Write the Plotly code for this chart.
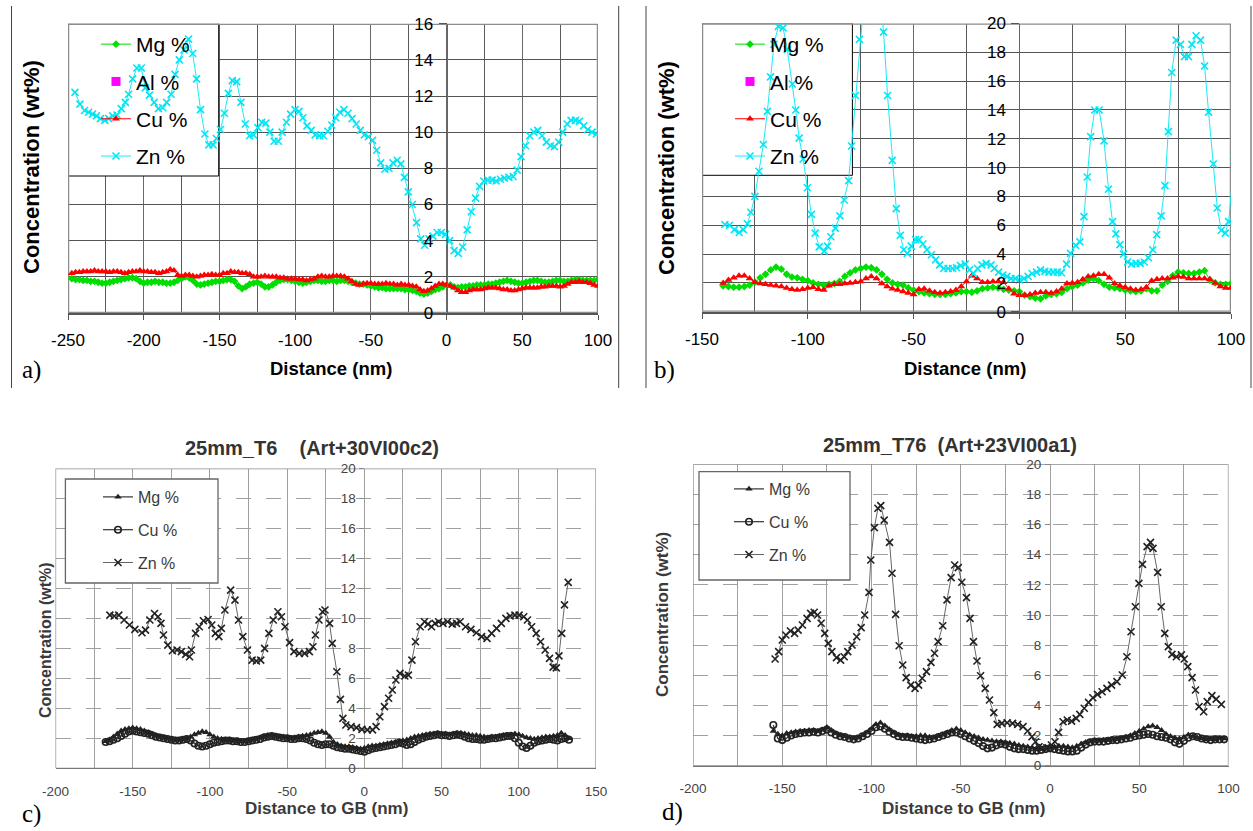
import numpy as np
import plotly.graph_objects as go

W, H = 1253, 831

# ---------------- Panel a data ----------------
a_zn_x = [-245.4, -242.1, -239.1, -236.4, -233.8, -231.2, -228.6, -225.7, -223.1, -220.5,
          -217.6, -214.8, -212.1, -210.0, -207.3, -204.5, -201.6, -199.0, -196.2, -193.1,
          -190.3, -187.4, -184.8, -181.9, -179.3, -176.5, -173.4, -170.4, -167.7, -165.1,
          -162.5, -159.6, -157.0, -154.2, -152.0, -149.3, -146.7, -144.1, -141.5, -138.6,
          -135.8, -132.9, -130.1, -127.5, -124.6, -122.0, -119.4, -116.7, -113.9, -111.1,
          -108.6, -105.8, -103.0, -100.1, -97.5, -94.9, -92.2, -89.4, -86.8, -83.9,
          -81.3, -78.4, -75.8, -73.2, -70.5, -67.8, -65.1, -62.4, -59.7, -57.0,
          -54.3, -51.6, -48.9, -46.2, -43.5, -40.8, -38.0, -35.4, -32.6, -30.2,
          -27.8, -25.3, -22.6, -19.8, -17.1, -14.5, -11.6, -9.0, -6.2, -3.5,
          -0.7, 2.0, 5.0, 7.7, 10.6, 13.6, 16.3, 19.1, 21.8, 24.6,
          27.3, 30.1, 32.7, 35.6, 38.2, 41.1, 44.0, 46.6, 49.2, 52.1,
          54.9, 57.6, 60.2, 63.1, 65.9, 68.6, 71.2, 74.1, 76.7, 79.6,
          82.2, 85.1, 87.7, 90.5, 93.2, 96.0, 98.9, 101.5]
a_zn = [12.2, 11.55, 11.2, 11.1, 11.0, 10.9, 10.75, 10.65, 10.75, 10.9,
        10.95, 11.3, 11.65, 12.1, 12.95, 13.55, 13.55, 12.45, 12.05, 11.65,
        11.3, 11.35, 11.65, 12.1, 13.2, 14.0, 14.55, 15.15, 14.35, 12.95,
        11.25, 9.9, 9.3, 9.3, 9.65, 10.15, 11.05, 12.15, 12.85, 12.8,
        11.65, 10.45, 9.8, 9.85, 10.25, 10.55, 10.5, 10.0, 9.5, 9.5,
        10.0, 10.55, 11.0, 11.25, 11.15, 10.8, 10.35, 10.1, 9.85, 9.8,
        9.8, 10.05, 10.4, 10.8, 11.1, 11.25, 11.05, 10.75, 10.45, 10.1,
        9.85, 9.75, 9.55, 9.0, 8.3, 7.95, 8.0, 8.3, 8.45, 8.25,
        7.5, 6.7, 6.0, 5.0, 4.1, 3.75, 4.1, 4.25, 4.45, 4.45,
        4.35, 4.0, 3.45, 3.3, 3.65, 4.6, 5.6, 6.35, 7.0, 7.3,
        7.35, 7.35, 7.3, 7.4, 7.45, 7.5, 7.55, 7.9, 8.65, 9.25,
        9.8, 10.0, 10.1, 9.8, 9.45, 9.25, 9.2, 9.45, 10.0, 10.45,
        10.65, 10.65, 10.6, 10.35, 10.15, 10.0, 9.9, 10.0]
a_mc_start, a_mc_end = -247.5, 100.0
a_mg = [1.9, 1.85, 1.85, 1.8, 1.8, 1.75, 1.75, 1.7, 1.65, 1.65,
        1.7, 1.75, 1.8, 1.85, 1.9, 1.95, 1.95, 1.9, 1.75, 1.65,
        1.7, 1.7, 1.75, 1.7, 1.7, 1.65, 1.65, 1.7, 1.8, 1.9,
        2.0, 1.95, 1.8, 1.6, 1.55, 1.6, 1.65, 1.7, 1.75, 1.75,
        1.8, 1.85, 1.85, 1.75, 1.5, 1.35, 1.45, 1.6, 1.65, 1.7,
        1.6, 1.45, 1.45, 1.55, 1.7, 1.8, 1.85, 1.85, 1.8, 1.75,
        1.7, 1.65, 1.7, 1.75, 1.8, 1.8, 1.75, 1.75, 1.8, 1.8,
        1.75, 1.8, 1.8, 1.75, 1.7, 1.65, 1.6, 1.6, 1.55, 1.5,
        1.45, 1.4, 1.4, 1.35, 1.35, 1.35, 1.35, 1.35, 1.3, 1.3,
        1.25, 1.2, 1.1, 1.05, 1.1, 1.2, 1.3, 1.35, 1.45, 1.55,
        1.55, 1.45, 1.4, 1.45, 1.45, 1.5, 1.5, 1.55, 1.55, 1.55,
        1.6, 1.6, 1.65, 1.7, 1.75, 1.8, 1.75, 1.7, 1.65, 1.65,
        1.7, 1.75, 1.8, 1.8, 1.75, 1.7, 1.7, 1.75, 1.8, 1.8,
        1.75, 1.75, 1.8, 1.85, 1.85, 1.8, 1.8, 1.8, 1.8, 1.85]
a_cu = [2.2, 2.25, 2.25, 2.3, 2.3, 2.3, 2.35, 2.3, 2.3, 2.3,
        2.25, 2.3, 2.3, 2.25, 2.2, 2.25, 2.3, 2.3, 2.35, 2.3,
        2.3, 2.25, 2.25, 2.2, 2.25, 2.3, 2.4, 2.35, 2.1, 2.05,
        2.1, 2.1, 2.05, 2.0, 2.05, 2.1, 2.1, 2.15, 2.1, 2.1,
        2.2, 2.2, 2.3, 2.25, 2.25, 2.2, 2.2, 2.15, 2.0, 2.0,
        2.0, 2.05, 2.0, 2.0, 2.0, 1.95, 1.95, 1.9, 1.9, 1.9,
        1.85, 1.85, 1.8, 1.85, 1.9, 2.0, 2.05, 2.0, 2.0, 2.05,
        2.05, 2.05, 2.0, 1.9, 1.75, 1.6, 1.55, 1.6, 1.65, 1.65,
        1.6, 1.6, 1.6, 1.65, 1.6, 1.6, 1.55, 1.6, 1.55, 1.55,
        1.5, 1.45, 1.3, 1.2, 1.25, 1.35, 1.5, 1.6, 1.6, 1.55,
        1.5, 1.4, 1.25, 1.15, 1.15, 1.25, 1.3, 1.3, 1.3, 1.35,
        1.4, 1.4, 1.4, 1.35, 1.3, 1.3, 1.25, 1.25, 1.3, 1.35,
        1.4, 1.4, 1.4, 1.4, 1.45, 1.45, 1.5, 1.5, 1.5, 1.45,
        1.5, 1.6, 1.7, 1.7, 1.75, 1.7, 1.7, 1.65, 1.55, 1.5]

# ---------------- Panel b data ----------------
b_zn_x = [-139.2, -137.0, -134.7, -132.4, -130.5, -128.6, -126.9, -125.0, -123.1, -121.0,
          -119.1, -117.6, -116.0, -113.9, -111.7, -109.7, -107.3, -105.7, -104.1, -102.2,
          -100.2, -98.3, -96.5, -94.6, -92.2, -90.7, -89.1, -87.0, -84.8, -82.8,
          -80.7, -79.3, -77.5, -75.6, -73.7, -71.8, -69.9, -68.0, -66.1, -64.2,
          -62.3, -60.1, -58.2, -56.3, -54.7, -53.0, -51.1, -49.1, -47.5, -45.6,
          -43.7, -41.6, -39.6, -37.7, -35.8, -33.7, -31.6, -29.7, -27.8, -25.6,
          -23.6, -21.7, -19.8, -17.7, -15.7, -13.4, -11.9, -9.8, -7.8, -5.9,
          -4.0, -1.9, 0.0, 2.1, 4.1, 6.0, 8.1, 10.0, 12.0, 13.9,
          16.0, 17.9, 19.9, 22.3, 24.2, 26.6, 28.6, 30.5, 32.1, 33.7,
          35.6, 37.7, 40.0, 42.1, 44.0, 45.6, 47.5, 49.2, 51.1, 53.0,
          55.1, 57.1, 59.0, 60.9, 63.0, 64.9, 67.0, 68.8, 70.4, 72.0,
          74.1, 76.1, 78.0, 79.9, 81.5, 83.5, 85.6, 87.5, 89.4, 91.6,
          93.5, 95.4, 97.3, 98.9, 101.5]
b_zn = [6.05, 6.0, 5.7, 5.5, 5.7, 6.1, 6.9, 8.0, 9.75, 11.6,
        13.9, 16.3, 18.55, 19.8, 19.7, 18.2, 15.8, 14.0, 12.05, 10.6,
        8.6, 6.75, 5.45, 4.5, 4.2, 4.55, 5.2, 5.8, 6.65, 7.75,
        9.1, 11.5, 15.0, 18.9, 22.5, 24.5, 25.5, 24.5, 22.5, 19.4,
        15.0, 10.5, 7.15, 5.3, 4.3, 4.05, 4.55, 5.0, 5.0, 4.7,
        4.3, 3.95, 3.6, 3.25, 3.0, 3.0, 3.0, 3.05, 3.2, 3.3,
        2.9, 2.65, 3.0, 3.25, 3.35, 3.25, 3.0, 2.75, 2.55, 2.45,
        2.3, 2.3, 2.2, 2.3, 2.45, 2.65, 2.75, 2.9, 2.8, 2.75,
        2.75, 2.75, 2.7, 3.3, 4.05, 4.6, 4.85, 6.6, 9.35, 12.15,
        14.0, 14.0, 11.85, 8.5, 6.25, 5.4, 4.65, 4.0, 3.45, 3.3,
        3.35, 3.35, 3.45, 3.75, 4.3, 5.35, 6.65, 8.75, 12.5, 16.6,
        18.85, 18.55, 17.7, 17.7, 18.55, 19.15, 18.85, 17.05, 13.85, 10.25,
        7.2, 5.65, 5.45, 6.25, 10.6]
b_mc_start, b_mc_end = -140.0, 100.0
b_mg = [1.8, 1.75, 1.7, 1.7, 1.75, 1.85, 2.05, 2.35, 2.6, 2.9,
        3.1, 2.95, 2.6, 2.4, 2.35, 2.25, 2.15, 2.0, 1.9, 1.85,
        1.9, 1.95, 2.1, 2.45, 2.7, 2.9, 3.0, 3.1, 3.05, 2.9,
        2.6, 2.25, 2.0, 1.9, 1.85, 1.65, 1.5, 1.4, 1.3, 1.25,
        1.2, 1.2, 1.2, 1.25, 1.3, 1.4, 1.4, 1.35, 1.45, 1.6,
        1.65, 1.7, 1.65, 1.55, 1.5, 1.45, 1.4, 1.15, 1.05, 0.95,
        0.9, 1.1, 1.2, 1.25, 1.35, 1.6, 1.75, 1.85, 2.0, 2.2,
        2.3, 2.15, 1.9, 1.7, 1.65, 1.6, 1.5, 1.45, 1.4, 1.45,
        1.6, 1.45, 1.45, 1.85, 2.1, 2.5, 2.75, 2.7, 2.65, 2.65,
        2.75, 2.85, 2.2, 2.0, 1.9, 1.9, 1.95]
b_cu = [2.0, 2.2, 2.35, 2.5, 2.5, 2.3, 2.05, 1.95, 1.9, 1.85,
        1.8, 1.75, 1.65, 1.55, 1.5, 1.55, 1.65, 1.7, 1.55, 1.5,
        1.8, 1.9, 1.9, 1.95, 2.0, 2.05, 2.1, 2.3, 2.45, 2.3,
        1.95, 1.75, 1.6, 1.5, 1.4, 1.3, 1.2, 1.55, 1.6, 1.45,
        1.35, 1.3, 1.35, 1.4, 1.5, 1.75, 2.1, 2.5, 2.3, 2.05,
        2.05, 2.1, 2.1, 2.05, 1.6, 1.25, 1.15, 1.15, 1.2, 1.3,
        1.35, 1.35, 1.3, 1.4, 1.6, 1.95, 2.0, 2.05, 2.25, 2.45,
        2.5, 2.6, 2.6, 2.35, 1.95, 1.8, 1.7, 1.6, 1.5, 1.55,
        1.7, 2.15, 2.25, 2.3, 2.3, 2.35, 2.45, 2.4, 2.3, 2.3,
        2.3, 2.3, 2.25, 2.0, 1.75, 1.65, 1.65]

# ---------------- Panel c data ----------------
c_zn_x = [-164.8, -162.0, -159.0, -155.6, -152.1, -148.6, -144.0, -141.7, -138.9, -135.9,
          -133.6, -131.7, -130.1, -127.3, -124.3, -121.3, -118.5, -115.7, -113.2, -112.0,
          -109.3, -106.9, -104.2, -101.2, -98.8, -96.5, -94.2, -92.6, -90.3, -86.6,
          -83.8, -81.5, -78.7, -75.7, -72.7, -69.9, -67.1, -64.6, -61.8, -59.0,
          -56.0, -53.7, -51.4, -48.4, -45.6, -42.1, -38.7, -35.6, -33.3, -31.7,
          -29.4, -27.1, -25.5, -22.5, -20.8, -17.8, -15.5, -13.9, -12.0, -8.6,
          -5.1, -1.6, 1.9, 5.3, 7.6, 10.0, 13.0, 15.7, 18.1, 20.4,
          23.1, 26.2, 28.5, 30.8, 33.1, 36.1, 38.9, 41.2, 43.5, 45.8,
          48.1, 50.9, 53.9, 56.9, 59.7, 62.0, 65.5, 69.0, 72.5, 75.9,
          79.4, 82.4, 85.6, 88.7, 91.7, 94.4, 97.5, 100.2, 103.2, 105.6,
          108.3, 111.3, 114.1, 117.1, 119.9, 122.2, 124.3, 126.0, 127.8, 129.6,
          132.0]
c_zn = [10.22, 10.16, 10.22, 9.89, 9.56, 9.27, 9.04, 9.22, 9.89, 10.33,
        10.11, 9.67, 8.89, 8.22, 7.84, 7.89, 7.78, 7.6, 7.44, 7.89,
        9.0, 9.44, 9.84, 9.93, 9.56, 9.0, 8.78, 9.33, 10.56, 11.89,
        11.22, 9.89, 8.78, 7.89, 7.22, 7.16, 7.22, 8.0, 9.0, 9.89,
        10.44, 10.11, 9.44, 8.38, 7.78, 7.67, 7.67, 7.78, 8.11, 8.89,
        9.89, 10.44, 10.56, 9.67, 8.33, 6.44, 4.6, 3.33, 2.89, 2.78,
        2.71, 2.6, 2.56, 2.56, 2.78, 3.44, 4.11, 4.67, 5.22, 5.89,
        6.33, 6.16, 6.22, 7.22, 8.44, 9.44, 9.78, 9.62, 9.44, 9.67,
        9.78, 9.67, 9.78, 9.62, 9.67, 9.78, 9.44, 9.27, 9.04, 8.78,
        8.67, 9.0, 9.33, 9.67, 10.0, 10.16, 10.22, 10.22, 10.11, 9.89,
        9.44, 9.0, 8.44, 7.89, 7.33, 6.75, 6.7, 7.5, 9.0, 10.9,
        12.4]
c_mc_start, c_mc_end = -167.5, 132.5
c_mg = [1.8, 1.9, 2.1, 2.3, 2.5, 2.6, 2.65, 2.7, 2.65, 2.6,
        2.5, 2.4, 2.3, 2.2, 2.1, 2.05, 2.0, 1.95, 1.9, 1.9,
        1.95, 2.0, 2.1, 2.25, 2.35, 2.45, 2.4, 2.25, 2.1, 2.0,
        1.95, 1.9, 1.9, 1.85, 1.85, 1.8, 1.8, 1.85, 1.9, 1.95,
        2.05, 2.15, 2.2, 2.2, 2.15, 2.1, 2.1, 2.05, 2.0, 2.05,
        2.1, 2.15, 2.2, 2.25, 2.35, 2.4, 2.45, 2.35, 2.1, 1.75,
        1.6, 1.5, 1.45, 1.45, 1.4, 1.35, 1.3, 1.35, 1.45, 1.5,
        1.5, 1.55, 1.6, 1.65, 1.7, 1.75, 1.8, 1.85, 1.9, 2.0,
        2.1, 2.15, 2.2, 2.25, 2.3, 2.3, 2.35, 2.3, 2.3, 2.25,
        2.3, 2.35, 2.35, 2.3, 2.25, 2.2, 2.2, 2.15, 2.1, 2.05,
        2.1, 2.1, 2.15, 2.2, 2.2, 2.25, 2.3, 2.25, 2.15, 2.05,
        2.0, 1.95, 2.0, 2.05, 2.1, 2.1, 2.15, 2.2, 2.35, 2.2,
        2.0]
c_cu = [1.75, 1.8, 1.9, 2.0, 2.15, 2.3, 2.45, 2.5, 2.45, 2.4,
        2.35, 2.3, 2.2, 2.1, 2.05, 2.0, 1.95, 1.9, 1.85, 1.85,
        1.9, 1.95, 1.85, 1.65, 1.5, 1.45, 1.5, 1.6, 1.7, 1.75,
        1.8, 1.85, 1.85, 1.8, 1.8, 1.75, 1.75, 1.8, 1.85, 1.9,
        1.95, 2.05, 2.1, 2.15, 2.1, 2.05, 2.0, 2.0, 1.95, 1.95,
        2.0, 2.0, 1.95, 1.85, 1.7, 1.6, 1.55, 1.6, 1.6, 1.5,
        1.4, 1.35, 1.3, 1.3, 1.25, 1.2, 1.15, 1.1, 1.2, 1.3,
        1.35, 1.4, 1.45, 1.5, 1.55, 1.6, 1.7, 1.65, 1.55, 1.6,
        1.75, 1.9, 2.0, 2.1, 2.15, 2.2, 2.25, 2.2, 2.2, 2.15,
        2.2, 2.25, 2.2, 2.1, 2.0, 1.95, 1.95, 1.9, 1.9, 1.95,
        2.0, 2.0, 2.05, 2.1, 2.15, 2.15, 2.0, 1.7, 1.45, 1.35,
        1.5, 1.7, 1.8, 1.85, 1.9, 1.95, 1.9, 1.85, 1.95, 2.0,
        1.9]

# ---------------- Panel d data ----------------
d_zn_x = [-154.0, -152.0, -150.0, -148.0, -145.4, -143.1, -141.1, -138.7, -136.1, -134.1,
          -132.1, -130.2, -128.2, -126.2, -124.2, -122.2, -119.6, -117.3, -115.3, -113.3,
          -110.9, -108.3, -105.8, -103.8, -101.4, -100.4, -98.4, -96.4, -94.8, -92.9,
          -89.9, -88.5, -86.5, -84.5, -82.5, -80.6, -78.0, -75.6, -73.6, -71.6,
          -69.2, -66.7, -64.7, -62.7, -60.1, -57.7, -55.4, -53.4, -51.4, -49.4,
          -46.8, -44.8, -42.9, -40.9, -38.9, -36.3, -33.9, -31.5, -29.6, -27.0,
          -24.0, -21.0, -18.1, -15.1, -12.5, -10.1, -8.1, -6.2, -4.2, -1.8,
          0.8, 2.8, 4.8, 7.3, 9.7, 12.1, 14.7, 16.7, 19.2, 21.6,
          24.0, 26.6, 29.2, 31.9, 34.5, 37.5, 40.5, 43.1, 45.4, 47.8,
          49.8, 51.8, 54.4, 56.3, 57.7, 60.3, 62.3, 64.3, 66.3, 68.3,
          70.8, 73.6, 75.2, 77.2, 79.6, 81.5, 83.5, 86.1, 88.1, 90.7,
          93.1, 96.0]
d_zn = [7.08, 7.57, 8.34, 8.67, 8.94, 8.78, 9.0, 9.34, 9.78, 10.11,
        10.18, 10.0, 9.45, 8.78, 8.12, 7.57, 7.17, 7.01, 7.23, 7.57,
        8.01, 8.56, 9.16, 10.0, 11.5, 13.65, 15.8, 17.08, 17.26, 16.3,
        14.82, 12.77, 10.04, 7.96, 6.68, 5.84, 5.35, 5.13, 5.35, 5.8,
        6.24, 6.86, 7.46, 8.23, 9.29, 11.0, 12.48, 13.32, 13.14, 12.17,
        11.15, 9.78, 8.23, 6.95, 5.97, 5.13, 4.36, 3.52, 2.74, 2.81,
        2.85, 2.81, 2.74, 2.59, 2.3, 1.92, 1.59, 1.26, 1.19, 1.19,
        1.37, 1.59, 2.21, 2.92, 3.03, 2.96, 3.14, 3.41, 3.81, 4.2,
        4.51, 4.73, 4.91, 5.13, 5.35, 5.58, 6.02, 7.23, 8.89, 10.55,
        12.1, 13.36, 14.54, 14.82, 14.42, 12.83, 10.55, 8.78, 7.9, 7.39,
        7.23, 7.35, 7.08, 6.57, 5.84, 5.02, 3.92, 3.58, 4.25, 4.65,
        4.42, 4.07]
d_mc_start, d_mc_end = -155.0, 97.5
d_mg = [2.3, 2.1, 2.0, 2.15, 2.2, 2.25, 2.3, 2.3, 2.35, 2.35,
        2.3, 2.4, 2.55, 2.35, 2.15, 2.0, 1.95, 1.85, 1.8, 1.85,
        2.0, 2.2, 2.45, 2.75, 2.85, 2.65, 2.4, 2.2, 2.05, 2.0,
        2.0, 1.95, 1.95, 2.0, 2.0, 1.9, 1.85, 1.95, 2.05, 2.2,
        2.35, 2.45, 2.35, 2.2, 2.05, 1.95, 1.85, 1.75, 1.7, 1.65,
        1.6, 1.6, 1.55, 1.5, 1.45, 1.35, 1.3, 1.25, 1.2, 1.15,
        1.1, 1.15, 1.2, 1.25, 1.3, 1.3, 1.25, 1.2, 1.3, 1.45,
        1.55, 1.6, 1.65, 1.65, 1.7, 1.7, 1.7, 1.75, 1.8, 1.9,
        2.0, 2.15, 2.3, 2.45, 2.6, 2.65, 2.55, 2.35, 2.1, 1.95,
        1.85, 1.8, 1.9, 2.05, 1.95, 1.85, 1.8, 1.75, 1.75, 1.75,
        1.8, 1.8]
d_cu = [2.7, 1.8, 1.7, 1.85, 2.0, 2.1, 2.15, 2.2, 2.2, 2.25,
        2.2, 2.3, 2.4, 2.2, 2.05, 1.95, 1.9, 1.8, 1.75, 1.8,
        1.95, 2.1, 2.3, 2.55, 2.6, 2.45, 2.25, 2.1, 1.95, 1.9,
        1.9, 1.85, 1.8, 1.75, 1.7, 1.75, 1.8, 1.9, 2.0, 2.1,
        2.2, 2.2, 2.1, 1.95, 1.8, 1.65, 1.5, 1.3, 1.15, 1.2,
        1.35, 1.45, 1.4, 1.25, 1.15, 1.1, 1.1, 1.05, 1.0, 1.0,
        1.05, 1.1, 1.15, 1.1, 1.05, 1.0, 0.95, 0.95, 1.0, 1.2,
        1.4, 1.55, 1.6, 1.6, 1.6, 1.65, 1.7, 1.7, 1.75, 1.8,
        1.85, 1.95, 2.0, 2.05, 2.1, 2.05, 1.95, 1.9, 1.85, 1.75,
        1.55, 1.45, 1.65, 1.85, 1.95, 1.9, 1.8, 1.75, 1.7, 1.75,
        1.75, 1.75]

# ---------------- layout helpers ----------------
FONT = "Arial, Liberation Sans, sans-serif"
SERIF = "Times New Roman, Liberation Serif, serif"


def fx(p):
    return p / W


def fy(p):
    return 1 - p / H


def grid_x(start, end, vals):
    return np.linspace(start, end, len(vals))


def tick_list(lo, hi, step):
    vals = list(range(int(lo), int(hi) + 1, step))
    return vals, [str(v) for v in vals]   # plain hyphen minus as in the original


panels = [
    dict(k="", xr=[-250, 100], yr=[0, 16], xp=(68, 598), yp=(313, 23.7), kind="color",
         box=((67.7, 23.3), (218.7, 176.0))),
    dict(k="2", xr=[-150, 100], yr=[0, 20], xp=(702, 1231), yp=(311.7, 23.5), kind="color",
         box=((701.9, 23.3), (852.4, 175.3))),
    dict(k="3", xr=[-200, 150], yr=[0, 20], xp=(55.5, 596), yp=(768.3, 468.5), kind="scan",
         box=((65.4, 479.0), (218.0, 583.0))),
    dict(k="4", xr=[-200, 100], yr=[0, 20], xp=(693, 1228.5), yp=(765.7, 464.3), kind="scan",
         box=((699.0, 471.7), (850.0, 580.0))),
]

fig = go.Figure()
layout = dict(width=W, height=H, autosize=False, margin=dict(l=0, r=0, t=0, b=0, pad=0, autoexpand=False),
              paper_bgcolor="white", plot_bgcolor="white", showlegend=True)
shapes = []

for p in panels:
    k = p["k"]
    xd = [fx(p["xp"][0]), fx(p["xp"][1])]
    yd = [fy(p["yp"][0]), fy(p["yp"][1])]
    ypos = xd[0] + (0 - p["xr"][0]) / (p["xr"][1] - p["xr"][0]) * (xd[1] - xd[0])
    tv, tt = tick_list(p["xr"][0], p["xr"][1], 50)
    if p["kind"] == "color":
        tfont = dict(family=FONT, size=17, color="black")
        xa = dict(domain=xd, range=p["xr"], anchor="y" + k, tickvals=tv, ticktext=tt,
                  showgrid=True, gridcolor="#6a6a6a", gridwidth=1.3,
                  minor=dict(dtick=25, tick0=p["xr"][0], showgrid=True, gridcolor="#5a5a5a", gridwidth=1),
                  zeroline=False, showline=True, linecolor="#555", linewidth=2,
                  ticks="outside", ticklen=5, tickcolor="#555", tickfont=tfont,
                  ticklabelstandoff=6, fixedrange=True, automargin=False)
        ya = dict(domain=yd, range=p["yr"], anchor="free", position=ypos, dtick=2,
                  showgrid=True, gridcolor="#555", gridwidth=1.1, zeroline=False,
                  showline=True, linecolor="#666", linewidth=1,
                  ticks="outside", ticklen=8, tickcolor="#555", tickfont=tfont,
                  ticklabelstandoff=2, fixedrange=True, automargin=False)
        frame = dict(color="#8c8c8c", width=2.5)
        boxline = dict(color="black", width=1)
    else:
        tfont = dict(family=FONT, size=13.5, color="#444")
        xa = dict(domain=xd, range=p["xr"], anchor="y" + k, tickvals=tv, ticktext=tt,
                  showgrid=True, gridcolor="#a0a0a0", gridwidth=1.2,
                  minor=dict(dtick=25, tick0=p["xr"][0], showgrid=True, gridcolor="#a0a0a0", gridwidth=1.2),
                  zeroline=False, showline=True, linecolor="#777", linewidth=1.2,
                  ticks="", tickfont=tfont, ticklabelstandoff=10, fixedrange=True, automargin=False)
        ya = dict(domain=yd, range=p["yr"], anchor="free", position=ypos, dtick=2,
                  showgrid=True, gridcolor="#a0a0a0", gridwidth=1.3, griddash="longdash",
                  zeroline=False, showline=False,
                  ticks="outside", ticklen=5, tickcolor="#888", tickfont=tfont,
                  ticklabelstandoff=1, fixedrange=True, automargin=False)
        frame = dict(color="#8a8a8a", width=1.3)
        boxline = dict(color="#666", width=1.3)
    layout["xaxis" + k] = xa
    layout["yaxis" + k] = ya
    xref, yref = "x" + k, "y" + k
    xr, yr = p["xr"], p["yr"]
    xs, ys = p["xp"], p["yp"]

    def dx(px_, xr=xr, xs=xs):
        return xr[0] + (px_ - xs[0]) / (xs[1] - xs[0]) * (xr[1] - xr[0])

    def dy(py_, yr=yr, ys=ys):
        return yr[0] + (ys[0] - py_) / (ys[0] - ys[1]) * (yr[1] - yr[0])

    # white legend box: hides the grid but sits under the data, as in the original
    (bx0, by0), (bx1, by1) = p["box"]
    shapes.append(dict(type="rect", xref=xref, yref=yref,
                       x0=dx(bx0), x1=dx(bx1), y0=dy(by1), y1=dy(by0),
                       fillcolor="white", line=boxline, layer="between"))
    shapes.append(dict(type="rect", xref=xref, yref=yref, x0=xr[0], x1=xr[1], y0=yr[0], y1=yr[1],
                       line=frame, layer="between"))

# panel separator lines (top row)
for xline in (11.5, 618.7, 646.0, 1251.0):
    shapes.append(dict(type="line", xref="paper", yref="paper", x0=fx(xline), x1=fx(xline),
                       y0=fy(388), y1=fy(6), line=dict(color="#444", width=1)))
layout["shapes"] = shapes

# ---------------- traces: colour panels ----------------
MG_C, CU_C, ZN_C, AL_C = "#00dd00", "#ff0000", "#00e6f5", "#ff00ff"


def color_traces(k, leg, mgx, mg, cux, cu, znx, zn):
    xa, ya = "x" + k, "y" + k
    fig.add_trace(go.Scatter(x=mgx, y=mg, name="Mg %", mode="lines+markers", xaxis=xa, yaxis=ya,
                             legend=leg, legendgroup=leg + "mg",
                             line=dict(color=MG_C, width=1),
                             marker=dict(symbol="diamond", size=6, color=MG_C)))
    fig.add_trace(go.Scatter(x=[None], y=[None], name="Al %", mode="markers", xaxis=xa, yaxis=ya,
                             legend=leg, legendgroup=leg + "al",
                             marker=dict(symbol="square", size=9, color=AL_C)))
    fig.add_trace(go.Scatter(x=cux, y=cu, name="Cu %", mode="lines+markers", xaxis=xa, yaxis=ya,
                             legend=leg, legendgroup=leg + "cu",
                             line=dict(color=CU_C, width=1),
                             marker=dict(symbol="triangle-up", size=7, color=CU_C)))
    fig.add_trace(go.Scatter(x=znx, y=zn, name="Zn %", mode="lines+markers", xaxis=xa, yaxis=ya,
                             legend=leg, legendgroup=leg + "zn",
                             line=dict(color=ZN_C, width=0.9),
                             marker=dict(symbol="x-thin", size=7, color=ZN_C,
                                         line=dict(color=ZN_C, width=1.6))))


color_traces("", "legend", grid_x(a_mc_start, a_mc_end, a_mg), a_mg,
             grid_x(a_mc_start, a_mc_end, a_cu), a_cu, a_zn_x, a_zn)
color_traces("2", "legend2", grid_x(b_mc_start, b_mc_end, b_mg), b_mg,
             grid_x(b_mc_start, b_mc_end, b_cu), b_cu, b_zn_x, b_zn)

# ---------------- traces: scanned panels ----------------
DK = "#222222"


def scan_traces(k, leg, mgx, mg, cux, cu, znx, zn):
    xa, ya = "x" + k, "y" + k
    fig.add_trace(go.Scatter(x=mgx, y=mg, name="Mg %", mode="lines+markers", xaxis=xa, yaxis=ya,
                             legend=leg, legendgroup=leg + "mg",
                             line=dict(color="#333", width=1.2),
                             marker=dict(symbol="triangle-up", size=6.5, color=DK)))
    fig.add_trace(go.Scatter(x=cux, y=cu, name="Cu %", mode="lines+markers", xaxis=xa, yaxis=ya,
                             legend=leg, legendgroup=leg + "cu",
                             line=dict(color="#333", width=1.2),
                             marker=dict(symbol="circle-open", size=6.5, color=DK,
                                         line=dict(color=DK, width=1.6))))
    fig.add_trace(go.Scatter(x=znx, y=zn, name="Zn %", mode="lines+markers", xaxis=xa, yaxis=ya,
                             legend=leg, legendgroup=leg + "zn",
                             line=dict(color="#555", width=0.9),
                             marker=dict(symbol="x-thin", size=7, color=DK,
                                         line=dict(color=DK, width=1.6))))


scan_traces("3", "legend3", grid_x(c_mc_start, c_mc_end, c_mg), c_mg,
            grid_x(c_mc_start, c_mc_end, c_cu), c_cu, c_zn_x, c_zn)
scan_traces("4", "legend4", grid_x(d_mc_start, d_mc_end, d_mg), d_mg,
            grid_x(d_mc_start, d_mc_end, d_cu), d_cu, d_zn_x, d_zn)


# ---------------- legends ----------------
def legend_cfg(xp, yp, size, color, gap):
    return dict(x=fx(xp), y=fy(yp), xanchor="left", yanchor="top",
                bgcolor="rgba(0,0,0,0)", borderwidth=0,
                font=dict(family=FONT, size=size, color=color),
                traceorder="grouped", tracegroupgap=gap, itemclick=False, itemdoubleclick=False)


layout["legend"] = legend_cfg(96, 24, 21, "black", 7)
layout["legend2"] = legend_cfg(730, 24, 21, "black", 7)
layout["legend3"] = legend_cfg(98, 480, 16, "#3a3a3a", 9)
layout["legend4"] = legend_cfg(729, 472, 16, "#3a3a3a", 9)

# ---------------- text annotations ----------------
ann = []


def text(t, xp, yp, size, family=FONT, color="black", bold=False, angle=0):
    s = "<b>%s</b>" % t if bold else t
    ann.append(dict(text=s, x=fx(xp), y=fy(yp), xref="paper", yref="paper",
                    xanchor="center", yanchor="middle", showarrow=False, textangle=angle,
                    font=dict(family=family, size=size, color=color)))


text("Concentration (wt%)", 31, 167, 22, bold=True, angle=-90)
text("Concentration (wt%)", 666, 168, 22, bold=True, angle=-90)
text("Distance (nm)", 331, 368, 18.5, bold=True)
text("Distance (nm)", 965, 368, 18.5, bold=True)
text("a)", 31, 370, 25, family=SERIF)
text("b)", 664, 370, 25, family=SERIF)
text("25mm_T6\u00a0\u00a0\u00a0\u00a0(Art+30VI00c2)", 312, 448, 20, color="#333", bold=True)
text("25mm_T76\u00a0\u00a0(Art+23VI00a1)", 950, 445, 20, color="#333", bold=True)
text("Distance to GB (nm)", 326, 808, 17, color="#3a3a3a", bold=True)
text("Distance to GB (nm)", 963, 808, 17, color="#3a3a3a", bold=True)
text("Concentration (wt%)", 45, 640, 16, color="#3a3a3a", bold=True, angle=-90)
text("Concentration (wt%)", 662, 615, 17, color="#3a3a3a", bold=True, angle=-90)
text("c)", 31, 814, 25, family=SERIF)
text("d)", 672, 812, 25, family=SERIF)
layout["annotations"] = ann

fig.update_layout(**layout)
fig.write_html("out.html", config={"displayModeBar": False},
               post_script="document.body.style.margin='0';document.body.style.overflow='hidden';")
